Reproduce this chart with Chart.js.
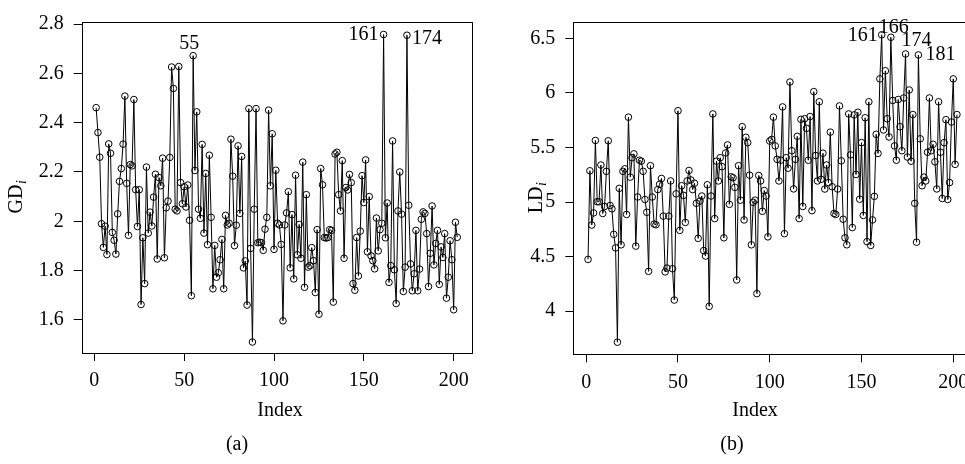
<!DOCTYPE html>
<html>
<head>
<meta charset="utf-8">
<script src="https://cdn.jsdelivr.net/npm/chart.js@4.4.1/dist/chart.umd.min.js"></script>
<style>
  html, body { margin: 0; padding: 0; background: #fff; width: 965px; height: 464px; overflow: hidden; }
  #boxA { position: absolute; left: 0; top: 0; }
  #boxB { position: absolute; left: 480px; top: 0; }
  .cap { position: absolute; font: 20px 'Liberation Serif', serif; color: #000; transform: translate(-50%, -50%); }
</style>
</head>
<body>
<canvas id="boxA" width="482" height="464"></canvas>
<canvas id="boxB" width="500" height="464"></canvas>
<div class="cap" style="left:237px; top:443px;">(a)</div>
<div class="cap" style="left:732px; top:443px;">(b)</div>

<script>
// index runs 1..202 in both panels
const gdValues = [
  2.461, 2.36, 2.26, 1.99, 1.894, 1.98, 1.865, 2.314, 2.276, 1.955,
  1.923, 1.867, 2.03, 2.162, 2.214, 2.313, 2.508, 2.154, 1.943, 2.23,
  2.225, 2.494, 2.128, 1.979, 2.128, 1.662, 1.933, 1.747, 2.22, 1.952,
  2.037, 1.981, 2.098, 2.191, 1.847, 2.177, 2.144, 2.256, 1.852, 2.055,
  2.082, 2.259, 2.626, 2.539, 2.049, 2.042, 2.628, 2.157, 2.071, 2.14,
  2.058, 2.147, 2.004, 1.698, 2.672, 2.206, 2.444, 2.049, 2.012, 2.312,
  1.952, 2.194, 1.905, 2.268, 2.016, 1.726, 1.902, 1.773, 1.791, 1.844,
  1.926, 1.726, 2.024, 1.985, 1.992, 2.333, 2.183, 1.901, 1.984, 2.306,
  2.032, 2.263, 1.811, 1.839, 1.66, 2.457, 1.89, 1.51, 2.049, 2.457,
  1.913, 1.915, 1.913, 1.882, 1.968, 2.016, 2.451, 2.144, 2.355, 1.886,
  2.207, 1.992, 1.985, 1.906, 1.596, 1.985, 2.034, 2.12, 1.811, 2.027,
  1.766, 2.187, 1.864, 1.987, 1.85, 2.24, 1.732, 2.108, 1.814, 1.82,
  1.893, 1.84, 1.711, 1.966, 1.623, 2.214, 2.148, 1.934, 1.932, 1.934,
  1.966, 1.963, 1.672, 2.273, 2.28, 2.108, 2.042, 2.246, 1.85, 2.137,
  2.127, 2.19, 2.157, 1.747, 1.72, 1.934, 1.778, 1.96, 2.185, 2.076,
  2.249, 1.876, 2.1, 1.86, 1.84, 1.807, 2.013, 1.88, 1.966, 1.992,
  2.758, 1.933, 2.074, 1.752, 1.82, 2.326, 1.803, 1.666, 2.042, 2.2,
  2.029, 1.715, 1.814, 2.755, 2.065, 1.827, 1.718, 1.787, 1.963, 1.718,
  1.806, 2.008, 2.038, 2.032, 1.95, 1.735, 1.87, 2.062, 1.823, 1.91,
  1.963, 1.744, 1.896, 1.853, 1.95, 1.688, 1.773, 1.921, 1.844, 1.641,
  1.996, 1.935
];

const ldValues = [
  4.474, 5.286, 4.789, 4.9, 5.564, 5.003, 5.003, 5.339, 4.895, 4.959,
  5.281, 5.561, 4.968, 4.938, 4.704, 4.58, 3.716, 5.125, 4.608, 5.281,
  5.304, 4.886, 5.777, 5.228, 5.406, 5.441, 4.596, 5.046, 5.383, 5.374,
  5.281, 5.023, 4.906, 4.365, 5.333, 5.046, 4.798, 4.792, 5.114, 5.163,
  5.216, 4.871, 4.36, 4.395, 4.871, 5.193, 4.389, 4.102, 5.075, 5.836,
  4.74, 5.149, 5.061, 4.813, 5.193, 5.289, 5.202, 5.114, 5.172, 4.988,
  4.667, 5.009, 5.055, 4.555, 4.505, 5.158, 4.044, 5.055, 5.807, 4.848,
  5.374, 5.193, 5.406, 5.324, 4.672, 5.45, 5.523, 4.979, 5.231, 5.222,
  5.134, 4.286, 5.333, 5.017, 5.69, 4.836, 5.593, 5.544, 5.246, 4.608,
  4.997, 5.017, 4.161, 5.243, 5.193, 4.915, 5.105, 5.055, 4.681, 5.558,
  5.573, 5.777, 5.514, 5.391, 5.193, 5.383, 5.871, 4.71, 5.406, 5.31,
  6.099, 5.47, 5.12, 5.391, 5.602, 4.848, 5.757, 4.959, 5.763, 5.675,
  5.383, 5.783, 4.921, 6.011, 5.426, 5.193, 5.918, 5.208, 5.447, 5.119,
  5.339, 5.178, 5.64, 5.14, 4.895, 4.886, 5.119, 5.88, 5.377, 4.842,
  4.672, 4.608, 5.807, 5.432, 4.766, 5.798, 5.252, 5.822, 5.026, 5.544,
  4.877, 5.772, 4.637, 5.918, 4.602, 4.836, 5.052, 5.62, 5.445, 6.128,
  6.532, 5.66, 6.202, 5.763, 5.596, 6.509, 5.93, 5.514, 5.383, 5.939,
  5.69, 5.47, 5.953, 6.356, 5.412, 6.026, 5.374, 5.801, 4.988, 4.632,
  6.347, 5.579, 5.149, 5.228, 5.193, 5.456, 5.953, 5.47, 5.529, 5.368,
  5.12, 5.918, 5.456, 5.032, 5.544, 5.754, 5.023, 5.178, 5.733, 6.128,
  5.345, 5.801
];

const indexTicks = [0, 50, 100, 150, 200];
const gdTicks = [1.6, 1.8, 2.0, 2.2, 2.4, 2.6, 2.8];
const ldTicks = [4, 4.5, 5, 5.5, 6, 6.5];

const gdMarked = [55, 161, 174];
const ldMarked = [161, 166, 174, 181];

const FONT = "'Liberation Serif', serif";

// box around the plotting region, axis titles, and the marked indices
const decor = {
  id: 'decor',
  afterDraw(chart, args, o) {
    const { ctx, chartArea: a } = chart;
    ctx.save();
    ctx.strokeStyle = '#000';
    ctx.lineWidth = 1;
    ctx.strokeRect(Math.round(a.left) + 0.5, Math.round(a.top) + 0.5,
                   Math.round(a.right - a.left), Math.round(a.bottom - a.top));
    ctx.fillStyle = '#000';
    ctx.font = '20px ' + FONT;
    ctx.textAlign = 'center';
    ctx.textBaseline = 'middle';
    ctx.fillText('Index', o.xTitle[0], o.xTitle[1]);

    // y title with italic subscript
    ctx.translate(o.yTitle[0], o.yTitle[1]);
    ctx.rotate(-Math.PI / 2);
    const mainW = ctx.measureText(o.yMain).width;
    ctx.font = 'italic 14px ' + FONT;
    const subW = ctx.measureText('i').width;
    const x0 = -(mainW + subW) / 2;
    ctx.textAlign = 'left';
    ctx.font = '20px ' + FONT;
    ctx.fillText(o.yMain, x0, 0);
    ctx.font = 'italic 14px ' + FONT;
    ctx.fillText('i', x0 + mainW + 0.5, 5);
    ctx.setTransform(1, 0, 0, 1, 0, 0);

    ctx.font = '20px ' + FONT;
    const xs = chart.scales.x, ys = chart.scales.y;
    const vals = chart.data.datasets[0].data;
    o.marks.forEach(m => {
      const px = xs.getPixelForValue(m.i);
      const py = ys.getPixelForValue(vals[m.i - 1].y);
      ctx.textAlign = m.align;
      ctx.fillText(String(m.i), px + m.dx, py + m.dy);
    });
    ctx.restore();
  }
};

function fmt(v) { return String(Number(v.toFixed(1))); }

function makePanel(id, values, yTicks, yRange, geo) {
  const pts = values.map((v, k) => ({ x: k + 1, y: v }));
  const tickFont = { family: FONT, size: 20 };
  return new Chart(document.getElementById(id), {
    type: 'scatter',
    data: {
      datasets: [{
        data: pts,
        showLine: true,
        borderColor: '#000',
        borderWidth: 1,
        pointRadius: 3.3,
        pointBorderWidth: 1,
        pointBorderColor: '#000',
        pointBackgroundColor: 'rgba(0,0,0,0)'
      }]
    },
    options: {
      responsive: false,
      animation: false,
      layout: { padding: { top: geo.top, right: geo.right, left: 0, bottom: 0 } },
      plugins: {
        legend: { display: false },
        tooltip: { enabled: false },
        decor: geo.decor
      },
      scales: {
        x: {
          type: 'linear',
          min: -7.04, max: 210.04,
          afterBuildTicks: s => { s.ticks = indexTicks.map(v => ({ value: v })); },
          afterFit: s => { s.height = geo.xh; },
          border: { display: false },
          grid: { drawOnChartArea: false, drawTicks: true, tickLength: 8, tickColor: '#000', color: '#000' },
          ticks: { font: tickFont, color: '#000', padding: 8, maxRotation: 0, autoSkip: false }
        },
        y: {
          type: 'linear',
          min: yRange[0], max: yRange[1],
          afterBuildTicks: s => { s.ticks = yTicks.map(v => ({ value: v })); },
          afterFit: s => { s.width = geo.yw; },
          border: { display: false },
          grid: { drawOnChartArea: false, drawTicks: true, tickLength: 8, tickColor: '#000', color: '#000' },
          ticks: { font: tickFont, color: '#000', padding: 10, autoSkip: false, callback: v => fmt(v) }
        }
      }
    },
    plugins: [decor]
  });
}

makePanel('boxA', gdValues, gdTicks, [1.4654, 2.8087], {
  top: 14, right: 10.3, yw: 81.7, xh: 111,
  decor: {
    xTitle: [280, 411], yTitle: [17, 197], yMain: 'GD',
    marks: [
      { i: gdMarked[0], align: 'center', dx: -4, dy: -12 },
      { i: gdMarked[1], align: 'right', dx: -5, dy: 0 },
      { i: gdMarked[2], align: 'left', dx: 5, dy: 4 }
    ]
  }
});

makePanel('boxB', ldValues, ldTicks, [3.605, 6.649], {
  top: 7.3, right: 8.3, yw: 93.3, xh: 109.7,
  decor: {
    xTitle: [275, 411], yTitle: [57, 198], yMain: 'LD',
    marks: [
      { i: ldMarked[0], align: 'right', dx: -4, dy: 1 },
      { i: ldMarked[1], align: 'center', dx: 3, dy: -10 },
      { i: ldMarked[2], align: 'center', dx: 11, dy: -13 },
      { i: ldMarked[3], align: 'left', dx: 7, dy: 0 }
    ]
  }
});
</script>
</body>
</html>
